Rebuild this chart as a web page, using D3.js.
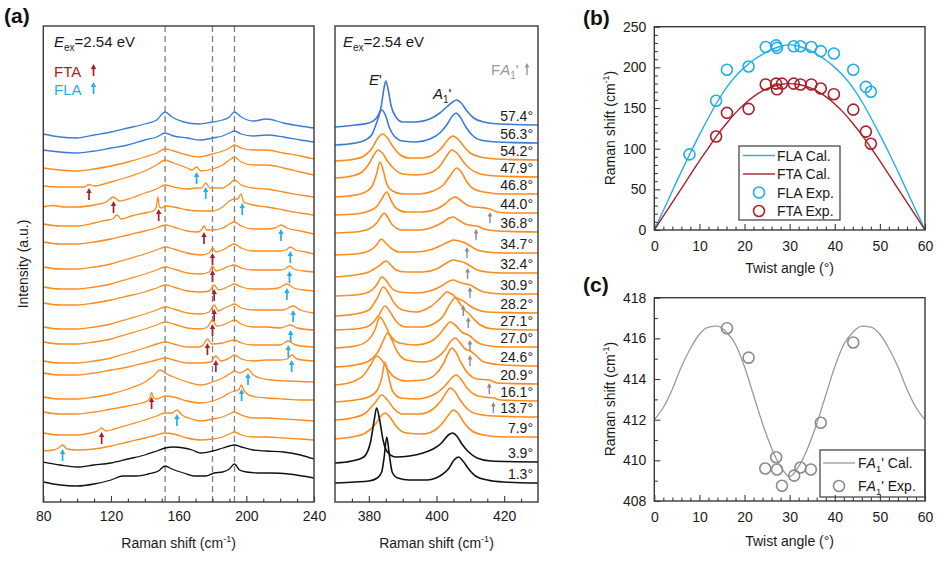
<!DOCTYPE html>
<html><head><meta charset="utf-8">
<script src="https://cdn.jsdelivr.net/npm/d3@7"></script>
<style>
body{margin:0;background:#fff;}
svg{font-family:"Liberation Sans",Arial,sans-serif;}
</style></head><body>
<svg id="fig" width="940" height="579"></svg>
<script>
// ---------------- DATA ----------------
const angleLabels = ["57.4°","56.3°","54.2°","47.9°","46.8°","44.0°","36.8°","34.7°","32.4°","30.9°","28.2°","27.1°","27.0°","24.6°","20.9°","16.1°","13.7°","7.9°","3.9°","1.3°"];

// low-frequency spectra (a, left): [Raman shift cm-1, stacked intensity a.u.]
const lowSpectra = [
 [[80,368],[90,365],[100,364],[110,367],[120,370],[130,374],[140,378],[147,382],[152,390],[156,385],[163,380],[172,378],[180,380],[186,382],[190,385],[193,390],[197,385],[204,381],[212,383],[222,379],[232,376],[240,374]],
 [[80,352],[90,350],[100,349],[110,351],[120,354],[130,357],[140,362],[147,365],[152,369],[157,366],[165,364],[173,362],[180,364],[186,366],[190,369],[193,371],[197,368],[204,366],[212,367],[222,365],[232,362],[240,360]],
 [[80,334],[90,332],[100,331],[110,333],[120,336],[130,340],[140,345],[147,349],[152,353],[157,351],[165,347],[172,345],[180,348],[186,351],[190,354],[193,357],[197,354],[204,352],[212,352],[222,349],[232,346],[240,343]],
 [[80,316],[90,315],[100,315],[104,315],[107,317.5],[110,316],[120,320],[130,325],[140,331],[147,337],[152,342],[157,339],[165,334],[168,332],[170.6,335],[173,331],[180,333],[186,337],[190,342],[193,345],[197,340],[204,337],[212,337],[222,334],[232,330],[240,327]],
 [[80,295],[86,296.5],[92,295],[100,295],[110,297],[117,300],[121.5,305],[125,301],[132,304],[140,309],[147,313],[152,317],[157,315],[165,313],[171,314],[173.5,314],[176,319],[178.5,314],[186,314],[190,318],[193,322],[197,317],[204,314],[212,313],[222,310],[232,307],[240,305]],
 [[80,278],[90,276],[100,276],[110,279],[118,282],[121,283],[123.5,287],[126,283],[132,286],[140,289],[145,291],[146.8,295],[147.7,305],[148.7,295],[150,294],[152,296],[157,295],[165,292],[173,291],[180,291],[186,295],[190,301],[193,303],[195,303],[196.8,308],[198.5,300],[204,297],[212,295],[222,292],[232,289],[240,287]],
 [[80,260],[90,258],[100,258],[110,260],[120,263],[130,267],[140,271],[147,274],[152,277],[157,275],[165,271],[171,270],[173.5,272],[175,276],[176.5,272],[180,272],[186,274],[190,278],[193,280],[197,276],[204,273],[212,273],[217,274],[220.5,277],[224,274],[232,271],[240,268]],
 [[80,235],[90,233],[100,233],[110,235],[120,238],[130,243],[140,248],[147,252],[152,255],[157,253],[165,249],[173,247],[178,249],[180,254],[182,250],[186,252],[190,256],[193,258],[197,254],[204,251],[212,251],[220,251],[223.5,252],[226,255],[229,252],[235,250],[240,248]],
 [[80,215],[90,213],[100,213],[110,215],[120,218],[130,223],[140,228],[147,232],[152,235],[157,233],[165,229],[173,228],[178,230],[180,236],[182,231],[186,233],[190,236],[193,237],[197,234],[204,232],[212,232],[220,232],[223,233],[225.5,236],[228,233],[234,231],[240,230]],
 [[80,199],[90,197],[100,197],[110,199],[120,202],[130,206],[140,210],[147,214],[152,217],[157,215],[165,211],[173,210],[178,211],[181,217],[183.5,212],[186,213],[190,216],[193,218],[197,215],[204,213],[212,213],[219,214],[224,218],[228,214],[234,212],[240,211]],
 [[80,175],[90,173],[100,173],[110,175],[120,178],[130,183],[140,188],[147,192],[152,195],[157,193],[165,189],[173,188],[178,190],[181,197],[183.5,191],[186,193],[190,196],[193,198],[197,194],[204,192],[212,192],[222,192],[227.7,196],[232,192],[240,189]],
 [[80,160],[90,158],[100,158],[110,160],[120,163],[130,168],[140,173],[147,177],[152,180],[157,178],[165,174],[173,173],[177,175],[180,182],[182.5,176],[186,177],[190,180],[193,182],[197,178],[204,175],[212,175],[220,174],[226.2,177],[230,174],[240,172]],
 [[80,141],[90,139],[100,139],[110,141],[120,144],[130,149],[140,154],[147,158],[152,160],[157,158],[165,155],[172,155],[174.5,157],[177,163],[179.5,158],[186,159],[190,161],[193,162],[197,159],[204,157],[212,157],[220,157],[224.8,161],[229,157],[240,155]],
 [[80,129],[90,127],[100,127],[110,129],[120,132],[130,135],[140,139],[147,142],[152,144],[157,142],[165,139],[173,139],[179,140],[182,146],[185,141],[190,144],[193,147],[197,143],[204,141],[212,142],[220,142],[224,143],[226.8,147],[230,143],[240,141]],
 [[80,105],[90,103],[100,103],[110,105],[120,108],[130,113],[140,120],[145,126],[149,132],[153,128],[157,125],[165,120],[173,117],[180,120],[186,124],[190,128],[193,131],[196,129],[199,131],[201,133],[203.5,128],[208,124],[215,122],[225,121],[240,120]],
 [[80,90],[90,88],[100,88],[110,90],[120,93],[130,96],[138,99],[141.5,101],[143,104],[144,109.5],[145.2,104],[147,103],[152,106],[157,105],[165,101],[173,99],[180,101],[186,105],[190,109],[193,111],[195.5,112],[197,117],[198.8,111],[203,106],[212,104],[222,103],[232,102],[240,102]],
 [[80,69],[90,67],[100,67],[108,69],[112,71],[114.5,74],[117,71],[122,73],[130,77],[140,82],[147,86],[152,89],[156,89],[159,92],[162,87],[168,83],[173,81],[180,83],[186,85],[190,88],[193,90],[197,87],[204,84],[212,84],[222,83],[232,82],[240,81]],
 [[80,51],[86,52],[89,54],[91.4,57],[94,53],[100,52],[110,53],[120,56],[130,60],[140,64],[147,67],[152,69],[157,68],[165,64],[173,62],[180,63],[186,65],[190,68],[193,70],[197,67],[204,65],[212,65],[222,64],[232,63],[240,62]],
 [[80,40],[90,37],[100,35],[110,37],[120,39],[130,43],[140,47],[147,51],[152,54],[157,55],[163,54],[168,52],[173,49],[180,51],[186,54],[190,56],[193,57],[197,55],[204,52],[212,51],[222,50],[232,47],[240,43]],
 [[80,20],[90,17],[100,16],[110,18],[120,22],[127,26],[135,26],[142,28],[148,31],[152,36],[156,33],[163,29],[170,26],[176,26],[181,29],[186,30],[190,33],[193,38],[196,32],[200,30],[208,29],[215,29],[225,28],[240,24]]
];

// E' / A1' region spectra (a, right)
const ramanSpectra = [
 [[370,375],[376,377],[380,379],[382,383],[383.5,393],[384.3,410],[385,421],[385.8,411],[386.6,396],[388,385],[390,380],[394,380],[398,383],[401,389],[403,395],[404.8,400],[406,402],[407.3,399],[409,391],[411,384],[414,380],[419,378],[430,377]],
 [[370,357],[376,359],[379,362],[381,368],[382.5,381],[383.8,392],[385,386],[386,375],[387.5,366],[390,361],[394,360],[398,363],[401,369],[403,377],[404.7,386],[405.8,389],[407,385],[408.5,376],[410.5,367],[413,362],[418,360],[430,359]],
 [[370,341],[376,343],[379,347],[381,354],[382.5,363],[384,368],[385.5,364],[387,356],[389,348],[392,344],[396,344],[399,347],[401.5,354],[403.3,362],[404.8,366],[406.3,363],[408,356],[410,349],[413,345],[418,343],[430,342]],
 [[370,324],[375,326],[378,330],[380,338],[381.5,347],[382.7,352],[384,349],[385.5,341],[387.5,333],[390,328],[394,327],[398,329],[401,336],[403,346],[404.5,352],[406,349],[408,340],[410,333],[413,328],[418,326],[430,325]],
 [[370,305],[376,307],[379,310],[381,316],[382.3,328],[383.3,340],[384.3,331],[385.3,318],[387,311],[390,308],[395,308],[399,311],[402,317],[404,326],[406,334],[407.5,329],[409,320],[411,313],[414,310],[420,308],[430,308]],
 [[370,287],[376,288],[380,291],[382.5,296],[384,304],[385.3,310],[386.5,302],[388,294],[391,290],[396,290],[400,293],[402.5,298],[404.2,303],[405.6,305],[407,302],[409,297],[411,295],[413,294.5],[415.8,293],[418,290],[421,289],[430,289]],
 [[370,269],[376,270],[380,273],[382.3,279],[383.5,285],[384.5,289],[385.7,284],[387,277],[390,272],[395,272],[399,275],[402,280],[403.8,284],[405,285],[406.5,282],[408.5,278],[410.5,276.5],[412,276],[414,273],[418,271],[430,270]],
 [[370,247],[376,248],[380,251],[382.3,257],[383.7,263],[385,259],[386.5,254],[389,250],[394,250],[398,252],[401,256],[403.5,260],[405,262],[406.7,261],[408.5,259],[410,256],[412,252],[415,250],[420,249],[430,249]],
 [[370,225],[376,227],[380,230],[383,236],[385.1,241],[386.5,237],[388,232],[391,230],[396,230],[400,233],[402.5,238],[404,241],[405,242],[406.5,241],[408.5,239],[410,236],[412,232],[415,230],[420,229],[430,229]],
 [[370,206],[376,207],[380,210],[382.5,218],[383.8,225],[385.2,221],[386.7,214],[389,210],[394,209],[398,211],[401.5,216],[403.8,221],[405,222],[406.5,220],[408.5,218],[410,217],[411.5,214],[414,210],[420,208],[430,208]],
 [[370,186],[376,188],[380,192],[382.5,204],[384.3,215],[385.8,209],[387.5,199],[390,192],[394,190],[397,193],[400,200],[402,207],[403,210],[404.5,208],[406,204],[407.9,201],[409.5,197],[411.5,193],[415,190],[430,189]],
 [[370,172],[376,173],[380,176],[382.8,186],[384.8,196],[386.3,190],[388,181],[391,175],[396,175],[399,178],[402,186],[404,198],[405.5,204],[407,198],[408.3,192],[409.4,189],[411,183],[413,177],[417,173],[430,172]],
 [[370,154],[376,156],[379.5,161],[381.8,172],[383.3,185],[384.7,178],[386.3,167],[389,159],[394,157],[398,160],[401,168],[402.8,176],[404,180],[405.5,177],[407.5,170],[409.9,166],[411.5,161],[414,157],[420,155],[430,155]],
 [[370,135],[376,137],[380,141],[383,152],[384.5,163],[385.5,169],[386.7,163],[388.3,151],[391,142],[396,140],[400,144],[402.5,152],[404.3,161],[405.5,164],[407,159],[408.5,153],[410,151],[411.5,147],[414,140],[420,137],[430,136]],
 [[370,117],[375,120],[378.5,127],[380.7,138],[382.3,146],[383.8,142],[385.5,133],[387.5,125],[391,121],[396,122],[399.5,127],[402,138],[403.5,149],[404.5,154],[405.7,150],[407.3,139],[409.5,128],[412,123],[415.6,122],[418,119],[430,118]],
 [[370,100],[376,102],[380,105],[382.5,112],[383.8,124],[384.8,140],[385.8,126],[387,111],[389.5,104],[394,103],[399,107],[402.5,116],[404.5,124],[405.8,127],[407.2,123],[409,114],[411.5,107],[414,105],[416.8,104],[419,102],[430,101]],
 [[370,82],[375,84],[379,89],[381.8,99],[383.8,107],[385.5,102],[387.5,93],[390,88],[395,88],[399,93],[401.5,102],[403,110],[404,114],[405.3,111],[407,102],[409.5,92],[412,88],[417,86],[430,85]],
 [[370,63],[375,65],[379,69],[382,78],[383.6,86],[384.8,89],[386.2,85],[388,76],[391,69],[396,68],[400,73],[402.5,82],[404,89],[405,92],[406.3,89],[408,80],[410.5,71],[414,67],[420,65],[430,65]],
 [[370,39],[375,41],[378.5,45],[380.5,60],[381.5,80],[382.3,94],[383.2,82],[384.2,62],[385.5,50],[388,45],[392,46],[396,49],[399,53],[401.5,59],[403.5,67],[404.8,69],[406,66],[407.5,58],[409.5,50],[412,44],[416,41],[430,40]],
 [[370,19],[376,20],[380,21],[382.5,24],[383.8,30],[384.5,44],[385.3,65],[386.1,46],[386.9,30],[388.5,24],[392,22],[397,22],[401,26],[403.5,33],[405.2,42],[406.5,45],[407.8,41],[409.5,33],[411.5,26],[415,22],[420,20],[430,19]]
];

// arrow markers (tip: [shift, intensity])
const ftaMarks = [[107,314],[121.5,301],[148.2,293],[175,270],[180,249],[180,232],[181,213],[181,193],[180,178],[177,159],[182,142],[144,105],[114.5,70]];
const flaMarks = [[170.6,330],[176,315],[197.6,299],[220.5,273],[226,251],[225.5,231],[224,214],[227.7,192],[226.2,172],[224.8,157],[226.8,142],[201,129],[197.2,113],[159,88],[91.4,53]];
const fa1Marks = [[415.8,290],[411.7,273],[409,255],[409.2,234],[409.9,215],[407.9,197],[409.4,185],[409.9,162],[409.9,147],[415.6,119],[416.8,100]];
const dashedShifts = [152,180,193];

// (b)
const calAngles = [0,2,4,6,8,10,12,14,16,18,20,22,24,26,28,30,32,34,36,38,40,42,44,46,48,50,52,54,56,58,60];
const flaCal = [0,24,48,72,95,117,138,158,175,189,200,209,216,222,226,228,226,222,216,209,200,189,175,158,138,117,95,72,48,24,0];
const ftaCal = [0,17,34,51,68,85,101,117,131,144,155,164,171,176,179,180,179,176,171,164,155,144,131,117,101,85,68,51,34,17,0];
const flaExpAngle = [7.8,13.7,16.1,20.9,24.7,27.0,27.2,30.9,32.4,34.8,36.9,39.8,44.1,46.9,48.0];
const flaExpShift = [93,159,197,201,225,227,224,226,226,225,220,217,197,176,170];
const ftaExpAngle = [13.7,16.1,20.9,24.7,27.0,27.2,28.3,30.9,32.4,34.8,36.9,39.8,44.1,46.9,48.0];
const ftaExpShift = [115,144,149,179,180,173,180,180,179,179,174,167,148,121,106];

// (c)
const fa1Cal = [412.0,412.6,413.5,414.6,415.5,416.2,416.55,416.6,416.3,415.7,414.6,413.2,411.8,410.6,409.7,409.2,409.7,410.6,411.8,413.2,414.6,415.7,416.3,416.6,416.55,416.2,415.5,414.6,413.5,412.6,412.0];
const fa1ExpAngle = [16.1,20.9,24.6,27.0,27.2,28.3,31.0,32.4,34.7,36.9,44.1];
const fa1ExpShift = [416.5,415.05,409.6,410.15,409.55,408.75,409.25,409.65,409.55,411.85,415.8];

// ---------------- DRAW ----------------
const svg = d3.select("#fig");
const C = {blue:"#3b7bd8", orange:"#ff8b1e", black:"#111", fta:"#a8202a", fla:"#22aeea", gray:"#8a8a8a", frame:"#3a3a3a", text:"#1a1a1a"};
const colorOf = i => i < 2 ? C.blue : (i >= 18 ? C.black : C.orange);

const yI = d3.scaleLinear().domain([0,476]).range([502,26]);
const xL = d3.scaleLinear().domain([80,240]).range([43.3,314]);
const xR = d3.scaleLinear().domain([370,430]).range([335,538]);

function styleAxis(g){
  g.select(".domain").remove();
  g.selectAll("line").attr("stroke",C.frame).attr("stroke-width",1.1);
  g.selectAll("text").attr("font-family","Liberation Sans, Arial, sans-serif").attr("font-size",14).attr("fill",C.text);
  g.attr("font-family",null);
}
function frame(x0,x1,y0,y1){
  svg.append("rect").attr("x",x0).attr("y",y0).attr("width",x1-x0).attr("height",y1-y0)
    .attr("fill","none").attr("stroke",C.frame).attr("stroke-width",1.4);
}
function arrow(g,x,y,col,len,hw,hh,sw){
  g.append("line").attr("x1",x).attr("x2",x).attr("y1",y+hh-0.5).attr("y2",y+len).attr("stroke",col).attr("stroke-width",sw);
  g.append("path").attr("d",`M${x},${y} L${x-hw},${y+hh} L${x+hw},${y+hh} Z`).attr("fill",col);
}
function supText(sel, before, sup, after){
  sel.append("tspan").text(before);
  sel.append("tspan").attr("font-size",9).attr("dy",-6).text(sup);
  sel.append("tspan").attr("dy",6).text(after);
}
function eex(x,y){
  const t = svg.append("text").attr("x",x).attr("y",y).attr("font-size",15).attr("fill",C.text);
  t.append("tspan").attr("font-style","italic").text("E");
  t.append("tspan").attr("font-size",10).attr("dy",4).text("ex");
  t.append("tspan").attr("dy",-4).text("=2.54 eV");
}

// ---- panel (a) left ----
const clipL = svg.append("clipPath").attr("id","cl").append("rect").attr("x",43.3).attr("y",26).attr("width",314-43.3).attr("height",476);
const gL = svg.append("g").attr("clip-path","url(#cl)");
dashedShifts.forEach(v=>{
  gL.append("line").attr("x1",xL(v)).attr("x2",xL(v)).attr("y1",26).attr("y2",502)
   .attr("stroke","#808080").attr("stroke-width",1.3).attr("stroke-dasharray","6,4");
});
const lineL = d3.line().x(d=>xL(d[0])).y(d=>yI(d[1])).curve(d3.curveMonotoneX);
lowSpectra.forEach((s,i)=>{
  gL.append("path").attr("d",lineL(s)).attr("fill","none").attr("stroke",colorOf(i)).attr("stroke-width",1.3);
});
ftaMarks.forEach(d=>arrow(gL,xL(d[0]),yI(d[1]),C.fta,12,2.7,5,1.7));
flaMarks.forEach(d=>arrow(gL,xL(d[0]),yI(d[1]),C.fla,12,2.7,5,1.7));
frame(43.3,314,26,502);
const axL = svg.append("g").attr("transform","translate(0,502)")
  .call(d3.axisBottom(xL).tickValues([80,120,160,200,240]).tickSize(-6).tickPadding(9).tickFormat(d3.format("d")));
styleAxis(axL);
const axLm = svg.append("g").attr("transform","translate(0,502)")
  .call(d3.axisBottom(xL).tickValues(d3.range(90,240,10).filter(v=>v%40)).tickSize(-3.5).tickFormat(""));
styleAxis(axLm);
eex(54,47);
svg.append("text").attr("x",54).attr("y",77).attr("font-size",15).attr("fill",C.fta).text("FTA");
arrow(svg,93.5,64,C.fta,12,2.7,5,1.7);
svg.append("text").attr("x",54).attr("y",95).attr("font-size",15).attr("fill",C.fla).text("FLA");
arrow(svg,93.5,82,C.fla,12,2.7,5,1.7);
supText(svg.append("text").attr("x",178.6).attr("y",548).attr("text-anchor","middle").attr("font-size",14).attr("fill",C.text),"Raman shift (cm","-1",")");
svg.append("text").attr("transform","translate(28,264) rotate(-90)").attr("text-anchor","middle").attr("font-size",14).attr("fill",C.text).text("Intensity (a.u.)");

// ---- panel (a) right ----
svg.append("clipPath").attr("id","cr").append("rect").attr("x",335).attr("y",26).attr("width",203).attr("height",476);
const gR = svg.append("g").attr("clip-path","url(#cr)");
const lineR = d3.line().x(d=>xR(d[0])).y(d=>yI(d[1])).curve(d3.curveMonotoneX);
ramanSpectra.forEach((s,i)=>{
  gR.append("path").attr("d",lineR(s)).attr("fill","none").attr("stroke",colorOf(i)).attr("stroke-width",1.6);
});
fa1Marks.forEach(d=>arrow(gR,xR(d[0]),yI(d[1]),C.gray,11,2.4,4.5,1.4));
ramanSpectra.forEach((s,i)=>{
  svg.append("text").attr("x",533).attr("y",yI(s[s.length-1][1])-4).attr("text-anchor","end")
    .attr("font-size",14).attr("fill",C.text).text(angleLabels[i]);
});
frame(335,538,26,502);
const axR = svg.append("g").attr("transform","translate(0,502)")
  .call(d3.axisBottom(xR).tickValues([380,400,420]).tickSize(-6).tickPadding(9).tickFormat(d3.format("d")));
styleAxis(axR);
const axRm = svg.append("g").attr("transform","translate(0,502)")
  .call(d3.axisBottom(xR).tickValues([375,385,390,395,405,410,415,425]).tickSize(-3.5).tickFormat(""));
styleAxis(axRm);
eex(343,47);
{ const t = svg.append("text").attr("x",369).attr("y",85).attr("font-size",15).attr("fill",C.text);
  t.append("tspan").attr("font-style","italic").text("E"); t.append("tspan").text("'"); }
{ const t = svg.append("text").attr("x",433).attr("y",99).attr("font-size",15).attr("fill",C.text);
  t.append("tspan").attr("font-style","italic").text("A"); t.append("tspan").attr("font-size",10).attr("dy",4).text("1");
  t.append("tspan").attr("dy",-4).text("'"); }
{ const t = svg.append("text").attr("x",491).attr("y",75).attr("font-size",15).attr("fill","#999");
  t.append("tspan").text("F"); t.append("tspan").attr("font-style","italic").text("A");
  t.append("tspan").attr("font-size",10).attr("dy",4).text("1"); t.append("tspan").attr("dy",-4).text("'"); }
arrow(svg,527,63,"#999",12,2.5,4.5,1.4);
supText(svg.append("text").attr("x",436.5).attr("y",548).attr("text-anchor","middle").attr("font-size",14).attr("fill",C.text),"Raman shift (cm","-1",")");

// ---- panel (b) ----
const xB = d3.scaleLinear().domain([0,60]).range([654.3,925]);
const yB = d3.scaleLinear().domain([0,250]).range([230,26.7]);
svg.append("clipPath").attr("id","cb").append("rect").attr("x",654.3).attr("y",26.7).attr("width",925-654.3).attr("height",230-26.7);
const gB = svg.append("g").attr("clip-path","url(#cb)");
const lineB = d3.line().x((d,i)=>xB(calAngles[i])).y(d=>yB(d)).curve(d3.curveMonotoneX);
gB.append("path").attr("d",lineB(flaCal)).attr("fill","none").attr("stroke",C.fla).attr("stroke-width",1.4);
gB.append("path").attr("d",lineB(ftaCal)).attr("fill","none").attr("stroke",C.fta).attr("stroke-width",1.4);
flaExpAngle.forEach((a,i)=>gB.append("circle").attr("cx",xB(a)).attr("cy",yB(flaExpShift[i])).attr("r",5.5).attr("fill","none").attr("stroke",C.fla).attr("stroke-width",1.6));
ftaExpAngle.forEach((a,i)=>gB.append("circle").attr("cx",xB(a)).attr("cy",yB(ftaExpShift[i])).attr("r",5.5).attr("fill","none").attr("stroke",C.fta).attr("stroke-width",1.6));
frame(654.3,925,26.7,230);
styleAxis(svg.append("g").attr("transform","translate(0,230)").call(d3.axisBottom(xB).tickValues(d3.range(0,61,10)).tickSize(-6).tickPadding(11)));
styleAxis(svg.append("g").attr("transform","translate(0,230)").call(d3.axisBottom(xB).tickValues(d3.range(2,60,2).filter(v=>v%10)).tickSize(-3.5).tickFormat("")));
styleAxis(svg.append("g").attr("transform","translate(654.3,0)").call(d3.axisLeft(yB).tickValues(d3.range(0,251,50)).tickSize(-6).tickPadding(8)));
styleAxis(svg.append("g").attr("transform","translate(654.3,0)").call(d3.axisLeft(yB).tickValues(d3.range(10,250,10).filter(v=>v%50)).tickSize(-3.5).tickFormat("")));
svg.append("rect").attr("x",739).attr("y",146).attr("width",101).attr("height",74).attr("fill","#fff").attr("stroke",C.frame).attr("stroke-width",1.2);
[["FLA Cal.",C.fla,"line"],["FTA Cal.",C.fta,"line"],["FLA Exp.",C.fla,"circle"],["FTA Exp.",C.fta,"circle"]].forEach((e,i)=>{
  const y = 155.5 + i*18.5;
  if(e[2]==="line") svg.append("line").attr("x1",743).attr("x2",775).attr("y1",y).attr("y2",y).attr("stroke",e[1]).attr("stroke-width",1.4);
  else svg.append("circle").attr("cx",759).attr("cy",y).attr("r",5.5).attr("fill","none").attr("stroke",e[1]).attr("stroke-width",1.6);
  svg.append("text").attr("x",777).attr("y",y+5).attr("font-size",14).attr("fill",C.text).text(e[0]);
});
supText(svg.append("text").attr("transform","translate(615,128) rotate(-90)").attr("text-anchor","middle").attr("font-size",14).attr("fill",C.text),"Raman shift (cm","-1",")");
svg.append("text").attr("x",789.6).attr("y",273).attr("text-anchor","middle").attr("font-size",14).attr("fill",C.text).text("Twist angle (°)");

// ---- panel (c) ----
const yC = d3.scaleLinear().domain([408,418]).range([501,297.7]);
svg.append("clipPath").attr("id","cc").append("rect").attr("x",654.3).attr("y",297.7).attr("width",925-654.3).attr("height",501-297.7);
const gC = svg.append("g").attr("clip-path","url(#cc)");
const lineC = d3.line().x((d,i)=>xB(calAngles[i])).y(d=>yC(d)).curve(d3.curveMonotoneX);
gC.append("path").attr("d",lineC(fa1Cal)).attr("fill","none").attr("stroke","#999").attr("stroke-width",1.3);
fa1ExpAngle.forEach((a,i)=>gC.append("circle").attr("cx",xB(a)).attr("cy",yC(fa1ExpShift[i])).attr("r",5.5).attr("fill","none").attr("stroke","#8c8c8c").attr("stroke-width",1.6));
svg.append("rect").attr("x",820).attr("y",450).attr("width",105).attr("height",47).attr("fill","#fff").attr("stroke",C.frame).attr("stroke-width",1.2);
svg.append("line").attr("x1",823).attr("x2",855).attr("y1",463).attr("y2",463).attr("stroke","#999").attr("stroke-width",1.3);
svg.append("circle").attr("cx",839).attr("cy",486).attr("r",5.5).attr("fill","none").attr("stroke","#8c8c8c").attr("stroke-width",1.6);
[["Cal.",468],["Exp.",491]].forEach(e=>{
  const t = svg.append("text").attr("x",858).attr("y",e[1]).attr("font-size",14).attr("fill",C.text);
  t.append("tspan").text("F"); t.append("tspan").attr("font-style","italic").text("A");
  t.append("tspan").attr("font-size",9.5).attr("dy",4).text("1"); t.append("tspan").attr("dy",-4).text("' "+e[0]);
});
frame(654.3,925,297.7,501);
styleAxis(svg.append("g").attr("transform","translate(0,501)").call(d3.axisBottom(xB).tickValues(d3.range(0,61,10)).tickSize(-6).tickPadding(11)));
styleAxis(svg.append("g").attr("transform","translate(0,501)").call(d3.axisBottom(xB).tickValues(d3.range(2,60,2).filter(v=>v%10)).tickSize(-3.5).tickFormat("")));
styleAxis(svg.append("g").attr("transform","translate(654.3,0)").call(d3.axisLeft(yC).tickValues(d3.range(408,418.1,2)).tickSize(-6).tickPadding(8)));
styleAxis(svg.append("g").attr("transform","translate(654.3,0)").call(d3.axisLeft(yC).tickValues(d3.range(409,418,2)).tickSize(-3.5).tickFormat("")));
supText(svg.append("text").attr("transform","translate(615,399) rotate(-90)").attr("text-anchor","middle").attr("font-size",14).attr("fill",C.text),"Raman shift (cm","-1",")");
svg.append("text").attr("x",789.6).attr("y",546).attr("text-anchor","middle").attr("font-size",14).attr("fill",C.text).text("Twist angle (°)");

// panel labels
[["(a)",4,23],["(b)",583,25],["(c)",583,292]].forEach(p=>svg.append("text").attr("x",p[1]).attr("y",p[2]).attr("font-size",21).attr("font-weight","bold").attr("fill","#111").text(p[0]));
</script></body></html>
